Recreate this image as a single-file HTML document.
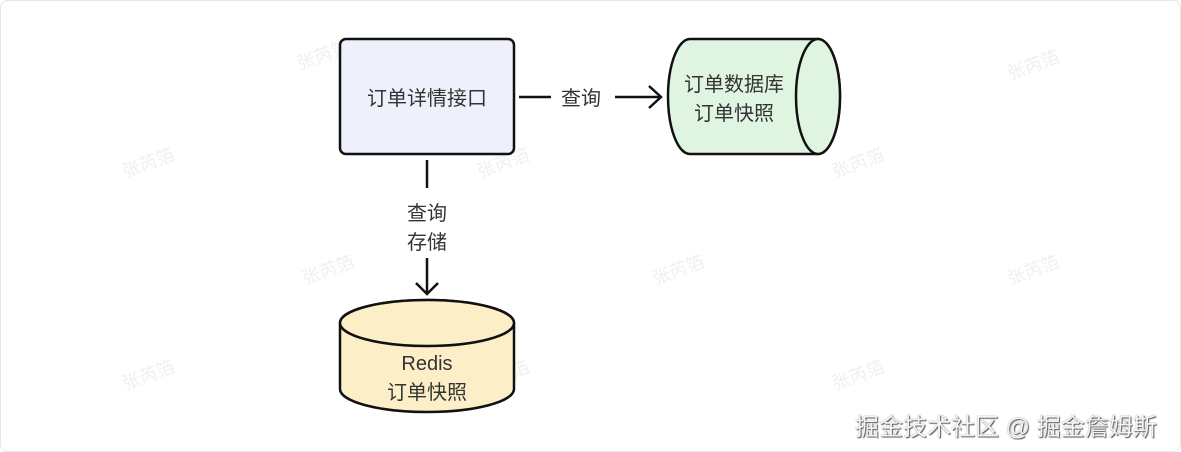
<!DOCTYPE html>
<html><head><meta charset="utf-8"><style>
html,body{margin:0;padding:0;background:#fff;}
body{width:1181px;height:452px;position:relative;overflow:hidden;font-family:"Liberation Sans","Noto Sans CJK SC",sans-serif;}
.frame{position:absolute;left:0;top:0;width:1179px;height:450px;border:1px solid #e6e6e6;border-radius:8px;}
.wm{position:absolute;left:855px;top:407px;font-size:24px;color:#f4f4f4;text-shadow:1px 1px 1px #555,0 0 1px #777;white-space:nowrap;}
</style></head><body>
<div class="frame"></div>
<svg width="1181" height="452" style="position:absolute;left:0;top:0" font-family="Liberation Sans, Noto Sans CJK SC, sans-serif">
<g fill="#f0f0f0" font-size="18">
<text x="300" y="70" transform="rotate(-20 300 70)">张芮箔</text>
<text x="1010" y="80" transform="rotate(-20 1010 80)">张芮箔</text>
<text x="125" y="178" transform="rotate(-20 125 178)">张芮箔</text>
<text x="480" y="178" transform="rotate(-20 480 178)">张芮箔</text>
<text x="835" y="178" transform="rotate(-20 835 178)">张芮箔</text>
<text x="305" y="285" transform="rotate(-20 305 285)">张芮箔</text>
<text x="655" y="285" transform="rotate(-20 655 285)">张芮箔</text>
<text x="1010" y="285" transform="rotate(-20 1010 285)">张芮箔</text>
<text x="125" y="390" transform="rotate(-20 125 390)">张芮箔</text>
<text x="480" y="390" transform="rotate(-20 480 390)">张芮箔</text>
<text x="835" y="390" transform="rotate(-20 835 390)">张芮箔</text>
</g>
<rect x="340" y="39" width="174" height="115" rx="6" fill="#eef1fb" stroke="#111" stroke-width="2.5"/>
<text x="427" y="105" text-anchor="middle" font-size="20" fill="#333">订单详情接口</text>
<line x1="519" y1="97" x2="551" y2="97" stroke="#111" stroke-width="2.5"/>
<text x="581" y="105" text-anchor="middle" font-size="20" fill="#333">查询</text>
<line x1="615" y1="97" x2="660" y2="97" stroke="#111" stroke-width="2.5"/>
<polyline points="649,86 661,97 649,108" fill="none" stroke="#111" stroke-width="2.5"/>
<path d="M690,39 L818,39 A22,57.5 0 0 1 818,154 L690,154 A22,57.5 0 0 1 690,39 Z" fill="#e0f5e1" stroke="#111" stroke-width="2.5"/>
<ellipse cx="818" cy="96.5" rx="22" ry="57.5" fill="#e0f5e1" stroke="#111" stroke-width="2.5"/>
<text x="734" y="91" text-anchor="middle" font-size="20" fill="#333">订单数据库</text>
<text x="734" y="120" text-anchor="middle" font-size="20" fill="#333">订单快照</text>
<line x1="427" y1="160" x2="427" y2="188" stroke="#111" stroke-width="2.5"/>
<text x="427" y="220" text-anchor="middle" font-size="20" fill="#333">查询</text>
<text x="427" y="249" text-anchor="middle" font-size="20" fill="#333">存储</text>
<line x1="427" y1="258" x2="427" y2="293" stroke="#111" stroke-width="2.5"/>
<polyline points="416,283 427,294 438,283" fill="none" stroke="#111" stroke-width="2.5"/>
<path d="M340,323 L340,389 A87,23 0 0 0 514,389 L514,323 A87,23 0 0 0 340,323 Z" fill="#fcefc8" stroke="#111" stroke-width="2.5"/>
<ellipse cx="427" cy="323" rx="87" ry="23" fill="#fcefc8" stroke="#111" stroke-width="2.5"/>
<text x="427" y="370" text-anchor="middle" font-size="20" fill="#333">Redis</text>
<text x="427" y="399" text-anchor="middle" font-size="20" fill="#333">订单快照</text>
</svg>
<div class="wm">掘金技术社区 @ 掘金詹姆斯</div>
</body></html>
